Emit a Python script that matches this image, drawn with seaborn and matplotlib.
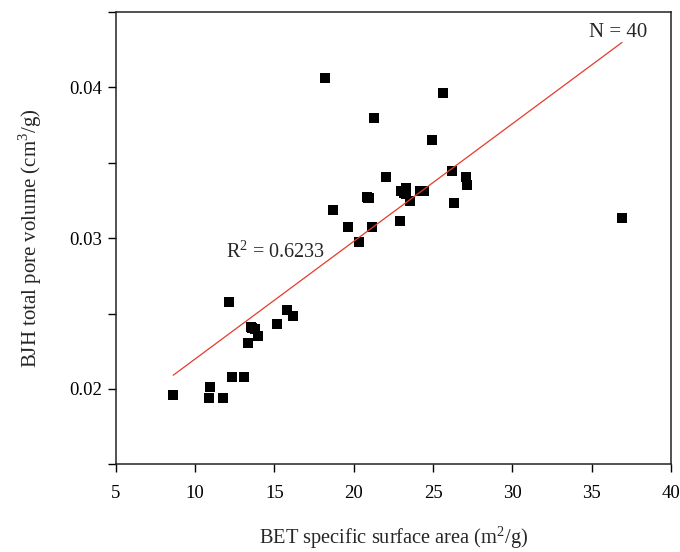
import matplotlib
matplotlib.use("Agg")
import matplotlib.pyplot as plt
import seaborn as sns
import numpy as np
import pandas as pd
from matplotlib.ticker import FixedLocator

bet_area = [8.63, 10.96, 10.89, 11.78, 12.34, 13.10, 12.15, 13.35, 13.50, 13.60,
            13.79, 13.98, 15.18, 15.81, 16.18, 18.20, 18.70, 19.65, 20.34, 20.81,
            20.90, 20.97, 21.16, 21.28, 22.04, 22.90, 22.99, 23.15, 23.28, 23.30,
            23.53, 24.20, 24.45, 24.94, 25.63, 26.20, 26.30, 27.06, 27.14, 36.90]
pore_volume = [0.01958, 0.02011, 0.01938, 0.01938, 0.02078, 0.02078, 0.02576, 0.02303, 0.02410, 0.02405,
               0.02400, 0.02352, 0.02430, 0.02523, 0.02483, 0.04063, 0.03189, 0.03074, 0.02974, 0.03273,
               0.03270, 0.03268, 0.03074, 0.03797, 0.03406, 0.03116, 0.03313, 0.03300, 0.03335, 0.03290,
               0.03248, 0.03313, 0.03313, 0.03651, 0.03963, 0.03446, 0.03235, 0.03406, 0.03353, 0.03133]
x_ticks = [5, 10, 15, 20, 25, 30, 35, 40]
y_major = [0.02, 0.03, 0.04]
y_minor = [0.015, 0.025, 0.035, 0.045]
r2_text = "R$^2$ = 0.6233"
n_text = "N = 40"

df = pd.DataFrame({"x": bet_area, "y": pore_volume})

sns.set_theme(style="ticks")
plt.rcParams['font.family'] = ['Liberation Serif', 'DejaVu Serif']
plt.rcParams['mathtext.fontset'] = 'custom'
plt.rcParams['mathtext.rm'] = 'Liberation Serif'

fig = plt.figure(figsize=(6.8, 5.52), dpi=100)
ax = fig.add_axes([0.170, 0.159, 0.817, 0.819])

sns.regplot(data=df, x="x", y="y", ci=None, ax=ax, marker="s",
            scatter_kws=dict(s=44, color="black", linewidths=0, alpha=1),
            line_kws=dict(color="#e53b2c", linewidth=0.9))

ax.set_xlim(5, 40)
ax.set_ylim(0.015, 0.045)
ax.set_xticks(x_ticks)
ax.set_xticklabels([str(t) for t in x_ticks])
ax.set_yticks(y_major)
ax.set_yticklabels([f"{t:.2f}" for t in y_major])
ax.yaxis.set_minor_locator(FixedLocator(y_minor))

ax.tick_params(axis="both", which="both", direction="out", length=6, width=1.0,
               labelsize=13.5, color="black", labelcolor="black")
ax.tick_params(axis="x", pad=9)
ax.tick_params(axis="y", pad=4)
for sp in ax.spines.values():
    sp.set_visible(True)
    sp.set_color("#222222")
    sp.set_linewidth(1.1)

ax.set_xlabel("BET specific surface area (m$^2$/g)", fontsize=14.7, labelpad=16)
ax.set_ylabel("BJH total pore volume (cm$^3$/g)", fontsize=15, labelpad=18)

ax.text(11.95, 0.0291, r2_text, fontsize=14.5, va="center", ha="left")
ax.text(34.8, 0.04365, n_text, fontsize=15, va="center", ha="left")

fig.savefig("out.png", dpi=100, facecolor="white")
